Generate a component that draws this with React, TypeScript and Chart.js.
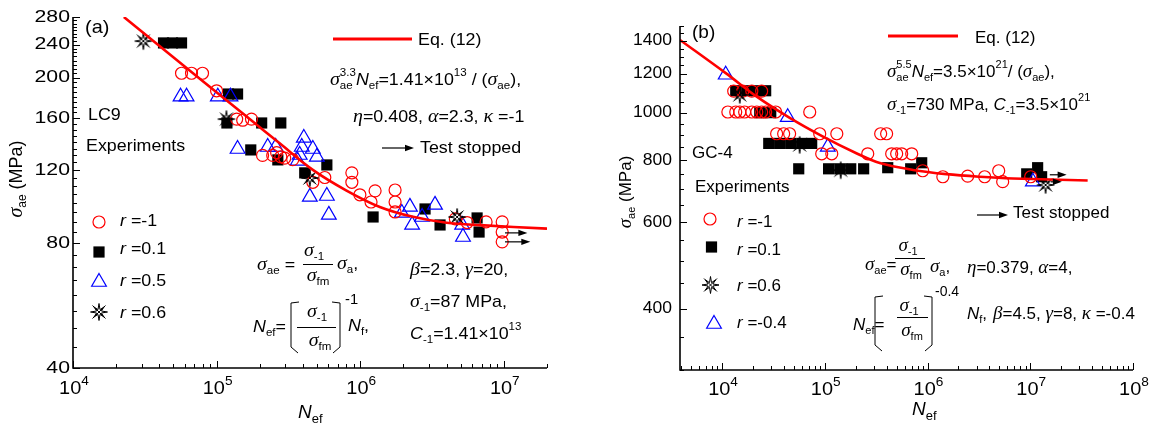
import React, { useEffect, useRef } from 'react';
import { Chart, registerables } from 'chart.js';

Chart.register(...registerables);

// ================= Panel (a) LC9 =================
const aCircleN = [5.7e4, 6.69e4, 7.98e4, 1.0e5, 1.38e5, 1.52e5, 1.75e5, 2.09e5, 2.46e5, 2.62e5, 2.8e5, 2.98e5, 3.39e5, 4.68e5, 5.67e5, 8.75e5, 8.75e5, 9.95e5, 1.27e6, 1.19e6, 1.75e6, 1.75e6, 1.75e6, 4.6e6, 5.56e6, 7.53e6, 9.75e6, 9.75e6, 9.75e6];
const aCircleS = [205, 205, 205, 186, 159, 158, 159, 130, 130, 132, 129, 128, 127, 112, 115, 118, 112, 104.5, 106.8, 100.4, 107.3, 100.4, 95, 91.4, 89.6, 89.9, 89.9, 85, 80.5];
const aSquareN = [4.27e4, 4.93e4, 5.7e4, 1.21e5, 1.4e5, 1.18e5, 2.06e5, 2.8e5, 1.73e5, 2.67e5, 4.11e5, 5.86e5, 1.23e6, 2.83e6, 3.6e6, 6.52e6, 6.73e6];
const aSquareS = [242.5, 242.5, 242.5, 182.7, 182.7, 155.6, 155.6, 155.6, 134, 126.8, 118, 123.3, 92.4, 96.6, 88.4, 91.9, 85];
const aTriN = [5.61e4, 6.18e4, 1.02e5, 1.25e5, 1.4e5, 2.27e5, 2.58e5, 4.05e5, 3.92e5, 4.68e5, 3.79e5, 4.99e5, 3.67e5, 4.46e5, 5.86e5, 6.05e5, 1.95e6, 2.22e6, 2.3e6, 2.7e6, 3.32e6, 5.13e6, 5.2e6];
const aTriS = [180, 180, 180, 180, 134.7, 136.2, 136.2, 143.2, 136.2, 134.7, 130.3, 128.9, 126.1, 103.3, 103.8, 93.5, 94.5, 97.7, 88.4, 92.4, 98.8, 88.4, 82.7];
const aStarN = [3.09e4, 1.17e5, 4.46e5, 4.73e6];
const aStarS = [245, 159, 114.7, 92.4];
const aCurveN = [2.26e4, 7.6e4, 1.7e5, 2.75e5, 4.68e5, 8.03e5, 1.37e6, 2.33e6, 4.0e6, 6.84e6, 2.0e7];
const aCurveS = [280, 199, 159, 139, 120, 107, 97.7, 92.5, 89.5, 88.3, 86.6];
const aArrowStartN = [1.02e7, 1.02e7];
const aArrowEndN = [1.46e7, 1.53e7];
const aArrowS = [84.6, 80.5];
const aXMajor = [1e4, 1e5, 1e6, 1e7];
const aXExp = ['4', '5', '6', '7'];
const aYMajor = [40, 80, 120, 160, 200, 240, 280];
const aYMinorStep = 5;
const aLegend = ['-1', '0.1', '0.5', '0.6'];

// ================= Panel (b) GC-4 =================
const bCircleN = [1.3e4, 1.59e4, 1.95e4, 2.43e4, 1.14e4, 1.36e4, 1.49e4, 1.66e4, 1.95e4, 2.18e4, 2.43e4, 2.66e4, 3.33e4, 7.14e4, 3.4e4, 3.98e4, 4.55e4, 8.93e4, 1.31e5, 3.5e5, 4.0e5, 9.34e4, 1.17e5, 2.62e5, 4.48e5, 5.01e5, 5.61e5, 7.02e5, 8.98e5, 1.41e6, 2.46e6, 3.6e6, 4.93e6, 5.39e6, 1.01e7];
const bCircleS = [1106, 1106, 1106, 1106, 1003, 1003, 1003, 1003, 1003, 1003, 1003, 1003, 1003, 1003, 906, 906, 906, 906, 906, 906, 906, 825, 825, 825, 825, 825, 825, 825, 762, 741, 743, 741, 762, 724, 741];
const bSquareN = [1.36e4, 1.74e4, 2.18e4, 2.66e4, 2.33e4, 2.98e4, 2.85e4, 3.64e4, 4.66e4, 5.97e4, 7.46e4, 5.58e4, 1.09e5, 1.4e5, 1.79e5, 2.39e5, 4.1e5, 6.86e5, 8.78e5, 9.24e6, 1.18e7, 1.29e7];
const bSquareS = [1108, 1108, 1108, 1108, 1000, 1000, 866, 866, 866, 866, 866, 769, 769, 769, 769, 769, 773, 769, 791, 751, 773, 741];
const bTriN = [1.086e4, 4.36e4, 1.07e5, 1.06e7];
const bTriS = [1194, 979, 852, 724];
const bStarN = [1.49e4, 5.7e4, 1.43e5, 1.41e7];
const bStarS = [1087, 860, 764, 713];
const bCurveN = [3.9e3, 1.087e4, 2.16e4, 4.56e4, 9.62e4, 2.03e5, 3.43e5, 7.23e5, 1.53e6, 3.22e6, 6.79e6, 3.62e7];
const bCurveS = [1405, 1203, 1079, 976, 894, 827, 790, 765, 750, 741, 735, 728];
const bArrowStartN = [1.55e7, 1.58e7];
const bArrowEndN = [2.26e7, 2.03e7];
const bArrowS = [747.8, 723.6];
const bXMajor = [1e4, 1e5, 1e6, 1e7, 1e8];
const bXExp = ['4', '5', '6', '7', '8'];
const bYMajor = [400, 600, 800, 1000, 1200, 1400];
const bYMinorStep = 50;
const bLegend = ['-1', '0.1', '0.6', '-0.4'];

// ================= helpers =================
const SANS = '"Liberation Sans", Arial, Helvetica, sans-serif';
const SERIF = '"Liberation Serif", "Times New Roman", Times, serif';
const RED = '#ff0000';
const BLUE = '#0000ff';

type Seg = [string, string];

const pts = (xs: number[], ys: number[]) => xs.map((x, i) => ({ x, y: ys[i] }));

function segFont(kind: string, size: number): string {
  if (kind === 'i') return `italic ${size}px ${SANS}`;
  if (kind === 'g') return `italic ${Math.round(size * 1.12)}px ${SERIF}`;
  if (kind === 'b' || kind === 'p') return `${Math.round(size * 0.66)}px ${SANS}`;
  return `${size}px ${SANS}`;
}
function segDy(kind: string, size: number): number {
  if (kind === 'b') return size * 0.33;
  if (kind === 'p') return -size * 0.42;
  return 0;
}
function measureSeg(ctx: CanvasRenderingContext2D, seg: Seg, size: number): number {
  const [t, k] = seg;
  if (k === 'ps') {
    const [a, b] = t.split('|');
    ctx.font = segFont('p', size);
    return Math.max(ctx.measureText(a).width, ctx.measureText(b).width);
  }
  ctx.font = segFont(k, size);
  return ctx.measureText(t).width;
}
function drawRich(ctx: CanvasRenderingContext2D, segs: Seg[], x: number, y: number, size: number, align = 'left', sx = 1, color = '#000') {
  ctx.save();
  ctx.fillStyle = color;
  ctx.textBaseline = 'middle';
  ctx.textAlign = 'left';
  const ws = segs.map((s) => measureSeg(ctx, s, size));
  const total = ws.reduce((a, b) => a + b, 0);
  ctx.translate(x, y);
  ctx.scale(sx, 1);
  let cx = align === 'center' ? -total / 2 : align === 'right' ? -total : 0;
  segs.forEach((s, i) => {
    const [t, k] = s;
    if (k === 'ps') {
      const [a, b] = t.split('|');
      ctx.font = segFont('p', size);
      ctx.fillText(a, cx, segDy('p', size));
      ctx.fillText(b, cx, segDy('b', size));
    } else {
      ctx.font = segFont(k, size);
      ctx.fillText(t, cx, segDy(k, size));
    }
    cx += ws[i];
  });
  ctx.restore();
}
function drawStarShape(ctx: CanvasRenderingContext2D, x: number, y: number) {
  const R = 8.5, r = 2.6;
  ctx.save();
  ctx.strokeStyle = '#000';
  ctx.lineWidth = 1;
  ctx.beginPath();
  for (let i = 0; i < 16; i++) {
    const a = -Math.PI / 2 + (i * Math.PI) / 8;
    const rr = i % 2 === 0 ? (i % 4 === 0 ? R : R * 0.85) : r;
    const px = x + Math.cos(a) * rr;
    const py = y + Math.sin(a) * rr;
    if (i === 0) ctx.moveTo(px, py);
    else ctx.lineTo(px, py);
  }
  ctx.closePath();
  ctx.stroke();
  const d = 6.5;
  ctx.beginPath();
  ctx.moveTo(x - d, y - d); ctx.lineTo(x + d, y + d);
  ctx.moveTo(x - d, y + d); ctx.lineTo(x + d, y - d);
  ctx.stroke();
  ctx.restore();
}
function makeStarImage(): HTMLCanvasElement {
  const c = document.createElement('canvas');
  c.width = 20;
  c.height = 20;
  const g = c.getContext('2d') as CanvasRenderingContext2D;
  drawStarShape(g, 10, 10);
  return c;
}
function drawMarker(ctx: CanvasRenderingContext2D, kind: string, x: number, y: number) {
  ctx.save();
  ctx.beginPath();
  if (kind === 'circle') {
    ctx.strokeStyle = RED;
    ctx.lineWidth = 1.2;
    ctx.arc(x, y, 6, 0, Math.PI * 2);
    ctx.stroke();
  } else if (kind === 'rect') {
    ctx.fillStyle = '#000';
    ctx.fillRect(x - 5.6, y - 5.6, 11.2, 11.2);
  } else if (kind === 'triangle') {
    const r = 8.5;
    ctx.strokeStyle = BLUE;
    ctx.lineWidth = 1.2;
    ctx.moveTo(x, y - r);
    ctx.lineTo(x + r * 0.866, y + r * 0.5);
    ctx.lineTo(x - r * 0.866, y + r * 0.5);
    ctx.closePath();
    ctx.stroke();
  } else {
    drawStarShape(ctx, x, y);
  }
  ctx.restore();
}
function drawArrow(ctx: CanvasRenderingContext2D, x0: number, x1: number, y: number) {
  ctx.save();
  ctx.strokeStyle = '#000';
  ctx.fillStyle = '#000';
  ctx.lineWidth = 1.2;
  ctx.beginPath();
  ctx.moveTo(x0, y);
  ctx.lineTo(x1 - 6, y);
  ctx.stroke();
  ctx.beginPath();
  ctx.moveTo(x1, y);
  ctx.lineTo(x1 - 9, y - 3.2);
  ctx.lineTo(x1 - 9, y + 3.2);
  ctx.closePath();
  ctx.fill();
  ctx.restore();
}
function drawLine(ctx: CanvasRenderingContext2D, x0: number, y0: number, x1: number, y1: number, color = '#000', w = 1) {
  ctx.save();
  ctx.strokeStyle = color;
  ctx.lineWidth = w;
  ctx.beginPath();
  ctx.moveTo(x0, y0);
  ctx.lineTo(x1, y1);
  ctx.stroke();
  ctx.restore();
}
function drawBracket(ctx: CanvasRenderingContext2D, x: number, top: number, bottom: number, dir: number) {
  ctx.save();
  ctx.strokeStyle = '#000';
  ctx.lineWidth = 1;
  ctx.beginPath();
  ctx.moveTo(x + dir * 8, top);
  ctx.lineTo(x, top + 1);
  ctx.lineTo(x, bottom - 6);
  ctx.lineTo(x + dir * 7, bottom);
  ctx.stroke();
  ctx.restore();
}

interface AxisSpec {
  xMajor: number[];
  xExp: string[];
  yMajor: number[];
  yMinorStep: number;
  yLabelRight: number;
  yLabelSize: number;
  yLabelSx: number;
  xLabelY: number;
}

function drawAxes(chart: any, s: AxisSpec) {
  const ctx: CanvasRenderingContext2D = chart.ctx;
  const { left, right, top, bottom } = chart.chartArea;
  const xs = chart.scales.x;
  const ys = chart.scales.y;
  ctx.save();
  ctx.strokeStyle = '#000';
  ctx.lineWidth = 1;
  ctx.beginPath();
  const xmin = xs.min, xmax = xs.max;
  for (let e = Math.floor(Math.log10(xmin)); e <= Math.ceil(Math.log10(xmax)); e++) {
    for (let m = 1; m <= 9; m++) {
      const v = m * Math.pow(10, e);
      if (v < xmin * 0.999 || v > xmax * 1.001) continue;
      const px = Math.round(xs.getPixelForValue(v)) + 0.5;
      const len = m === 1 ? 7 : 4;
      ctx.moveTo(px, bottom);
      ctx.lineTo(px, bottom - len);
    }
  }
  const ymin = ys.min, ymax = ys.max;
  for (let v = Math.ceil(ymin / s.yMinorStep) * s.yMinorStep; v <= ymax + 1e-6; v += s.yMinorStep) {
    const major = s.yMajor.includes(v);
    const py = Math.round(ys.getPixelForValue(v)) + 0.5;
    ctx.moveTo(left, py);
    ctx.lineTo(left + (major ? 7 : 4), py);
  }
  ctx.stroke();
  ctx.lineWidth = 1.6;
  ctx.beginPath();
  ctx.moveTo(left, top);
  ctx.lineTo(left, bottom);
  ctx.lineTo(right, bottom);
  ctx.stroke();
  ctx.restore();
  s.yMajor.forEach((v) => {
    drawRich(ctx, [[String(v), 'n']], s.yLabelRight, ys.getPixelForValue(v), s.yLabelSize, 'right', s.yLabelSx);
  });
  s.xMajor.forEach((v, i) => {
    drawRich(ctx, [['10', 'n'], [s.xExp[i], 'p']], xs.getPixelForValue(v) + 1, s.xLabelY, 19, 'center', 1.05);
  });
}

function baseConfig(spec: any, starImg: HTMLCanvasElement): any {
  return {
    type: 'scatter',
    data: {
      datasets: [
        {
          label: 'Eq. (12)',
          data: spec.curve,
          showLine: true,
          borderColor: RED,
          borderWidth: 2.6,
          pointRadius: 0,
          tension: 0.35,
          order: 0,
        },
        {
          label: 'star',
          data: spec.stars,
          pointStyle: starImg,
          pointRadius: 9,
          order: 1,
        },
        {
          label: 'circle',
          data: spec.circles,
          pointStyle: 'circle',
          pointRadius: 6,
          borderColor: RED,
          pointBorderColor: RED,
          backgroundColor: 'rgba(0,0,0,0)',
          pointBackgroundColor: 'rgba(0,0,0,0)',
          pointBorderWidth: 1.2,
          borderWidth: 1.2,
          order: 2,
        },
        {
          label: 'triangle',
          data: spec.tris,
          pointStyle: 'triangle',
          pointRadius: 8.5,
          borderColor: BLUE,
          pointBorderColor: BLUE,
          backgroundColor: 'rgba(0,0,0,0)',
          pointBackgroundColor: 'rgba(0,0,0,0)',
          pointBorderWidth: 1.2,
          borderWidth: 1.2,
          order: 3,
        },
        {
          label: 'square',
          data: spec.squares,
          pointStyle: 'rect',
          pointRadius: 7.9,
          borderColor: '#000',
          pointBorderColor: '#000',
          backgroundColor: '#000',
          pointBackgroundColor: '#000',
          pointBorderWidth: 0,
          borderWidth: 0,
          order: 4,
        },
      ],
    },
    options: {
      responsive: false,
      animation: false,
      devicePixelRatio: 1,
      events: [],
      layout: { padding: spec.padding },
      plugins: { legend: { display: false }, tooltip: { enabled: false } },
      scales: {
        x: { type: 'logarithmic', min: spec.xmin, max: spec.xmax, display: false },
        y: { type: 'logarithmic', min: spec.ymin, max: spec.ymax, display: false },
      },
    },
    plugins: [{ id: 'deco', afterDraw: spec.deco }],
  };
}

// ================= decorations =================
function decoA(chart: any) {
  const ctx: CanvasRenderingContext2D = chart.ctx;
  const xs = chart.scales.x, ys = chart.scales.y;
  drawAxes(chart, { xMajor: aXMajor, xExp: aXExp, yMajor: aYMajor, yMinorStep: aYMinorStep, yLabelRight: 70, yLabelSize: 17, yLabelSx: 1.25, xLabelY: 389 });
  const S = 17, SX = 1.05;
  const T = (segs: Seg[], x: number, y: number, size = S, align = 'left') => drawRich(ctx, segs, x, y, size, align, SX);
  aArrowS.forEach((s, i) => drawArrow(ctx, xs.getPixelForValue(aArrowStartN[i]), xs.getPixelForValue(aArrowEndN[i]), ys.getPixelForValue(s)));
  T([['(a)', 'n']], 85, 28, 19);
  T([['LC9', 'n']], 88, 115);
  T([['Experiments', 'n']], 86, 146);
  const mk = ['circle', 'rect', 'triangle', 'star'];
  const my = [222, 252, 282, 312];
  const ty = [221, 249, 281, 313];
  mk.forEach((k, i) => {
    drawMarker(ctx, k, 99, my[i]);
    T([['r', 'i'], [' =' + aLegend[i], 'n']], 120, ty[i]);
  });
  drawLine(ctx, 333, 39, 412, 39, RED, 3);
  T([['Eq. (12)', 'n']], 418, 40);
  T([['σ', 'g'], ['3.3|ae', 'ps'], ['N', 'i'], ['ef', 'b'], ['=1.41', 'n'], ['×', 'n'], ['10', 'n'], ['13', 'p'], [' / (', 'n'], ['σ', 'g'], ['ae', 'b'], ['),', 'n']], 330, 80);
  T([['η', 'g'], ['=0.408, ', 'n'], ['α', 'g'], ['=2.3, ', 'n'], ['κ', 'g'], [' =-1', 'n']], 353, 117);
  drawArrow(ctx, 382, 414, 148);
  T([['Test stopped', 'n']], 420, 148);
  T([['σ', 'g'], ['ae', 'b'], [' =', 'n']], 257, 265);
  T([['σ', 'g'], ['-1', 'b']], 314, 251, S, 'center');
  drawLine(ctx, 303, 264.5, 333, 264.5);
  T([['σ', 'g'], ['fm', 'b']], 318, 276, S, 'center');
  T([['σ', 'g'], ['a', 'b'], [',', 'n']], 337, 264);
  T([['β', 'g'], ['=2.3, ', 'n'], ['γ', 'g'], ['=20,', 'n']], 410, 270);
  T([['σ', 'g'], ['-1', 'b'], ['=87 MPa,', 'n']], 410, 302);
  T([['C', 'i'], ['-1', 'b'], ['=1.41', 'n'], ['×', 'n'], ['10', 'n'], ['13', 'p']], 410, 334);
  T([['N', 'i'], ['ef', 'b'], ['=', 'n']], 253, 327);
  drawBracket(ctx, 291, 302, 353, 1);
  T([['σ', 'g'], ['-1', 'b']], 317, 312, S, 'center');
  drawLine(ctx, 297, 327.5, 336, 327.5);
  T([['σ', 'g'], ['fm', 'b']], 320, 341, S, 'center');
  drawBracket(ctx, 340, 302, 353, -1);
  T([['-1', 'n']], 345, 300, 14);
  T([['N', 'i'], ['f', 'b'], [',', 'n']], 348, 326);
  drawRich(ctx, [['N', 'i'], ['ef', 'b']], 298, 413, 19, 'left', 1);
  ctx.save();
  ctx.translate(17, 179);
  ctx.rotate(-Math.PI / 2);
  drawRich(ctx, [['σ', 'g'], ['ae', 'b'], [' (MPa)', 'n']], 0, 0, 18, 'center', 1);
  ctx.restore();
}

function decoB(chart: any) {
  const ctx: CanvasRenderingContext2D = chart.ctx;
  const xs = chart.scales.x, ys = chart.scales.y;
  drawAxes(chart, { xMajor: bXMajor, xExp: bXExp, yMajor: bYMajor, yMinorStep: bYMinorStep, yLabelRight: 92, yLabelSize: 17, yLabelSx: 1.03, xLabelY: 390 });
  const S = 17, SX = 1.0;
  const T = (segs: Seg[], x: number, y: number, size = S, align = 'left') => drawRich(ctx, segs, x, y, size, align, SX);
  bArrowS.forEach((s, i) => drawArrow(ctx, xs.getPixelForValue(bArrowStartN[i]), xs.getPixelForValue(bArrowEndN[i]), ys.getPixelForValue(s)));
  T([['(b)', 'n']], 112, 33, 19);
  T([['GC-4', 'n']], 112, 153);
  T([['Experiments', 'n']], 115, 187);
  const mk = ['circle', 'rect', 'star', 'triangle'];
  const mx = [130, 131.5, 130.5, 134];
  const my = [219, 247, 285, 324];
  const ty = [222, 250, 286, 323];
  mk.forEach((k, i) => {
    drawMarker(ctx, k, mx[i], my[i]);
    T([['r', 'i'], [' =' + bLegend[i], 'n']], 157, ty[i]);
  });
  drawLine(ctx, 308, 36, 378, 36, RED, 3);
  T([['Eq. (12)', 'n']], 395, 38);
  T([['σ', 'g'], ['5.5|ae', 'ps'], ['N', 'i'], ['ef', 'b'], ['=3.5', 'n'], ['×', 'n'], ['10', 'n'], ['21', 'p'], ['/ (', 'n'], ['σ', 'g'], ['ae', 'b'], ['),', 'n']], 307, 72);
  T([['σ', 'g'], ['-1', 'b'], ['=730 MPa, ', 'n'], ['C', 'i'], ['-1', 'b'], ['=3.5', 'n'], ['×', 'n'], ['10', 'n'], ['21', 'p']], 307, 105);
  drawArrow(ctx, 397, 428, 215);
  T([['Test stopped', 'n']], 433, 213);
  T([['σ', 'g'], ['ae', 'b'], ['=', 'n']], 285, 265);
  T([['σ', 'g'], ['-1', 'b']], 328, 246, S, 'center');
  drawLine(ctx, 315, 258.5, 345, 258.5);
  T([['σ', 'g'], ['fm', 'b']], 331, 270, S, 'center');
  T([['σ', 'g'], ['a', 'b'], [',', 'n']], 350, 267);
  T([['η', 'g'], ['=0.379, ', 'n'], ['α', 'g'], ['=4,', 'n']], 387, 268);
  T([['N', 'i'], ['ef', 'b'], ['=', 'n']], 273, 325);
  drawBracket(ctx, 295, 296, 351, 1);
  T([['σ', 'g'], ['-1', 'b']], 329, 306, S, 'center');
  drawLine(ctx, 317, 317.5, 348, 317.5);
  T([['σ', 'g'], ['fm', 'b']], 332, 331, S, 'center');
  drawBracket(ctx, 352, 296, 351, -1);
  T([['-0.4', 'n']], 355, 292, 14);
  T([['N', 'i'], ['f', 'b'], [',', 'n']], 387, 314);
  T([['β', 'g'], ['=4.5, ', 'n'], ['γ', 'g'], ['=8, ', 'n'], ['κ', 'g'], [' =-0.4', 'n']], 413, 314);
  drawRich(ctx, [['N', 'i'], ['ef', 'b']], 332, 410, 19, 'left', 1);
  ctx.save();
  ctx.translate(46, 192);
  ctx.rotate(-Math.PI / 2);
  drawRich(ctx, [['σ', 'g'], ['ae', 'b'], [' (MPa)', 'n']], 0, 0, 17, 'center', 1);
  ctx.restore();
}

const specA = {
  curve: pts(aCurveN, aCurveS),
  stars: pts(aStarN, aStarS),
  circles: pts(aCircleN, aCircleS),
  tris: pts(aTriN, aTriS),
  squares: pts(aSquareN, aSquareS),
  xmin: 1e4, xmax: 2e7, ymin: 40, ymax: 280,
  padding: { left: 73, right: 33, top: 17, bottom: 59 },
  deco: decoA,
};
const specB = {
  curve: pts(bCurveN, bCurveS),
  stars: pts(bStarN, bStarS),
  circles: pts(bCircleN, bCircleS),
  tris: pts(bTriN, bTriS),
  squares: pts(bSquareN, bSquareS),
  xmin: 3.9e3, xmax: 1e8, ymin: 300, ymax: 1500,
  padding: { left: 100, right: 20, top: 26, bottom: 57 },
  deco: decoB,
};

export default function App() {
  const refA = useRef<HTMLCanvasElement>(null);
  const refB = useRef<HTMLCanvasElement>(null);
  useEffect(() => {
    const starImg = makeStarImage();
    const ca = new Chart(refA.current as HTMLCanvasElement, baseConfig(specA, starImg));
    const cb = new Chart(refB.current as HTMLCanvasElement, baseConfig(specB, starImg));
    return () => {
      ca.destroy();
      cb.destroy();
    };
  }, []);
  return (
    <div style={{ position: 'fixed', left: 0, top: 0, width: 1153, height: 427, background: '#fff', overflow: 'hidden' }}>
      <canvas ref={refA} width={580} height={427} style={{ position: 'absolute', left: 0, top: 0, width: 580, height: 427 }} />
      <canvas ref={refB} width={573} height={427} style={{ position: 'absolute', left: 580, top: 0, width: 573, height: 427 }} />
    </div>
  );
}
